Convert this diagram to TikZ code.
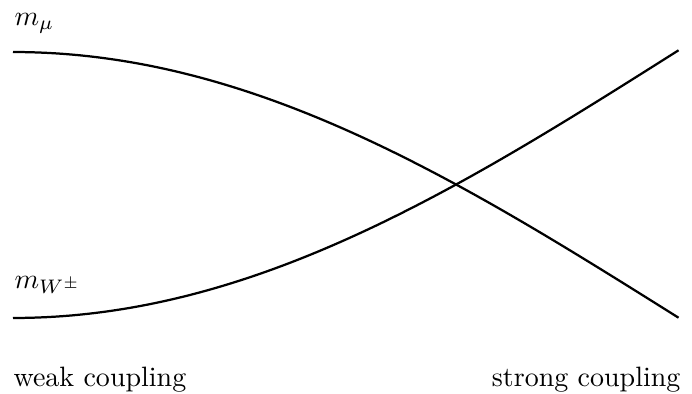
\documentclass[tikz,border=0pt]{standalone}
\usepackage{amsmath}

\begin{document}
\begin{tikzpicture}[
    x=0.357pt, y=-0.357pt,
    curve/.style={line width=0.8pt, black},
    masslabel/.style={anchor=base west, inner sep=0pt},
    axislabel/.style={inner sep=0pt},
]
\useasboundingbox (0,0) rectangle (692,394);

% Mass labels
\node[masslabel] (mmu) at (14, 25) {$m_\mu$};
\node[masslabel] (mw)  at (14, 288) {$m_{W^\pm}$};

% Crossing curves
\draw[curve] plot[domain=0:1, samples=80, variable=\t]
    ({13 + 666*\t}, {52 + 266*(1 - cos(90*\t))});
\draw[curve] plot[domain=0:1, samples=80, variable=\t]
    ({13 + 666*\t}, {318 - 268*(1 - cos(90*\t))});

% Coupling labels
\node[axislabel, anchor=base west] (weak)   at (13, 386) {weak coupling};
\node[axislabel, anchor=base east] (strong) at (681, 386) {strong coupling};

\end{tikzpicture}
\end{document}
